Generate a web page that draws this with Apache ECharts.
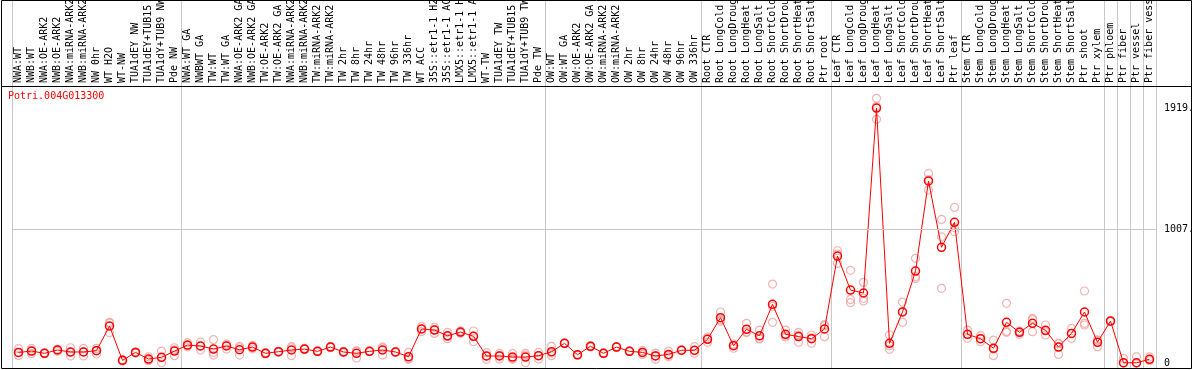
<!DOCTYPE html>
<html><head><meta charset="utf-8">
<script src="https://cdn.jsdelivr.net/npm/echarts@6/dist/echarts.min.js"></script>
<style>html,body{margin:0;padding:0;background:#fff}#c{width:1194px;height:370px}</style>
</head><body><div id="c"></div><script>
const geneTitle = 'Potri.004G013300';
const categories = [
 'NWA:WT','NWB:WT','NWA:OE-ARK2','NWB:OE-ARK2','NWA:miRNA-ARK2','NWB:miRNA-ARK2','NW 0hr','WT H2O','WT-NW','TUA1dEY NW','TUA1dEY+TUB15 NW','TUA1dY+TUB9 NW','Pde NW',
 'NWA:WT GA','NWBWT GA','TW:WT','TW:WT GA','NWA:OE-ARK2 GA','NWB:OE-ARK2 GA','TW:OE-ARK2','TW:OE-ARK2 GA','NWA:miRNA-ARK2 GA','NWB:miRNA-ARK2 GA','TW:miRNA-ARK2','TW:miRNA-ARK2 GA',
 'TW 2hr','TW 8hr','TW 24hr','TW 48hr','TW 96hr','TW 336hr','WT ACC','35S::etr1-1 H2O','35S::etr1-1 ACC','LMX5::etr1-1 H2O','LMX5::etr1-1 ACC','WT-TW','TUA1dEY TW','TUA1dEY+TUB15 TW','TUA1dY+TUB9 TW','Pde TW',
 'OW:WT','OW:WT GA','OW:OE-ARK2','OW:OE-ARK2 GA','OW:miRNA-ARK2','OW:miRNA-ARK2 GA','OW 2hr','OW 8hr','OW 24hr','OW 48hr','OW 96hr','OW 336hr',
 'Root CTR','Root LongCold','Root LongDrought','Root LongHeat','Root LongSalt','Root ShortCold','Root ShortDrought','Root ShortHeat','Root ShortSalt','Ptr root',
 'Leaf CTR','Leaf LongCold','Leaf LongDrought','Leaf LongHeat','Leaf LongSalt','Leaf ShortCold','Leaf ShortDrought','Leaf ShortHeat','Leaf ShortSalt','Ptr leaf',
 'Stem CTR','Stem LongCold','Stem LongDrought','Stem LongHeat','Stem LongSalt','Stem ShortCold','Stem ShortDrought','Stem ShortHeat','Stem ShortSalt','Ptr shoot','Ptr xylem',
 'Ptr phloem','Ptr fiber','Ptr vessel','Ptr fiber vessel'
];
const meanValues = [
 80,90,73,98,83,83,93,278,20,80,30,43,90,
 135,128,105,128,100,120,73,85,98,105,88,120,83,73,88,98,83,47,256,248,205,233,201,53,53,45,45,55,
 85,148,62,126,73,120,88,80,53,65,96,96,
 178,341,130,254,205,442,216,199,183,256,
 805,549,527,1919,148,384,692,1370,871,1059,
 216,183,111,306,231,299,246,120,223,384,156,
 316,2,2,28
];
const rep1 = [
 108,108,77,105,115,110,110,306,25,85,47,90,115,
 153,158,176,143,125,133,78,88,123,110,92,125,88,90,90,120,86,80,276,269,231,243,241,78,72,72,72,80,
 126,150,66,132,76,123,91,93,75,90,99,123,
 196,384,143,299,248,594,248,231,211,289,
 845,698,607,1992,211,459,788,1427,1081,1171,
 248,206,173,449,241,336,286,150,261,542,175,
 320,35,47,47
];
const rep2 = [
 80,90,73,100,80,85,95,300,20,80,25,40,100,
 130,128,79,135,115,120,73,85,115,105,88,120,83,90,88,113,83,30,256,252,200,230,202,53,57,35,60,55,
 75,148,62,126,73,120,88,82,56,58,96,93,
 183,324,135,232,186,426,203,210,190,281,
 820,479,487,1931,130,387,651,1381,950,1018,
 214,183,105,238,236,326,241,145,223,299,170,
 316,0,0,28
];
const rep3 = [
 55,70,70,88,53,53,68,228,15,75,17,2,55,
 122,98,60,105,60,107,68,82,55,100,84,115,78,38,86,60,80,30,236,223,183,225,160,28,30,28,2,30,
 55,145,58,120,70,117,85,65,28,47,93,73,
 156,315,111,231,181,306,196,156,148,198,
 750,454,467,1834,103,306,637,1302,562,988,
 186,160,55,231,216,236,211,65,186,286,123,
 312,0,0,17
];
const yTickValues = [0, 1007, 1919];
const yTickLabels = ['0', '1007.', '1919.'];
const groupBoundaries = [0, 13, 41, 53, 63, 73, 84, 85, 86, 87, 88];

const repData = [];
[rep1, rep2, rep3].forEach(r => r.forEach((v, i) => repData.push([i, v])));

const MONO = 'DejaVu Sans Mono';
const GRID_L = 12, GRID_R = 38;
const splitFn = (idx) => groupBoundaries.indexOf(idx) >= 0;

const chart = echarts.init(document.getElementById('c'), null, {renderer: 'canvas'});
chart.setOption({
  animation: false,
  backgroundColor: '#fff',
  title: {
    text: geneTitle, left: 8, top: 91, padding: 0,
    textStyle: {color: '#ff0000', fontSize: 10, fontFamily: MONO, fontWeight: 'normal'}
  },
  grid: [
    {left: GRID_L, right: GRID_R, top: 86, bottom: 1, outerBoundsMode: 'none', containLabel: false},
    {left: GRID_L, right: GRID_R, top: 0, height: 86, outerBoundsMode: 'none', containLabel: false}
  ],
  xAxis: [
    {
      gridIndex: 0, type: 'category', data: categories, position: 'top', boundaryGap: true,
      axisLine: {show: false}, axisTick: {show: false},
      axisLabel: {interval: 0, rotate: 90, margin: 3, fontFamily: MONO, fontSize: 10, color: '#000', hideOverlap: false},
      splitLine: {show: true, interval: splitFn, lineStyle: {color: '#c8c8c8', width: 1}}
    },
    {
      gridIndex: 1, type: 'category', data: categories, boundaryGap: true,
      axisLine: {show: false}, axisTick: {show: false}, axisLabel: {show: false},
      splitLine: {show: true, interval: splitFn, lineStyle: {color: '#c8c8c8', width: 1}}
    }
  ],
  yAxis: [
    {
      gridIndex: 0, type: 'value', position: 'right', min: -45, max: 2085,
      axisLine: {show: false}, axisTick: {show: false}, splitLine: {show: false},
      axisLabel: {
        customValues: yTickValues, margin: 8, fontFamily: MONO, fontSize: 10, color: '#000',
        formatter: (v) => { const k = yTickValues.indexOf(v); return k >= 0 ? yTickLabels[k] : ''; }
      }
    },
    {gridIndex: 1, type: 'value', show: false, min: 0, max: 1}
  ],
  series: [
    {
      type: 'scatter', xAxisIndex: 0, yAxisIndex: 0, data: repData, z: 2,
      symbol: 'circle', symbolSize: 8,
      itemStyle: {color: 'rgba(0,0,0,0)', borderColor: '#f0a0a0', borderWidth: 1.2},
      markLine: {
        silent: true, symbol: 'none', label: {show: false},
        lineStyle: {color: '#c8c8c8', type: 'solid', width: 1},
        data: [{yAxis: 1007}]
      }
    },
    {
      type: 'line', xAxisIndex: 0, yAxisIndex: 0, data: meanValues, z: 3,
      symbol: 'circle', symbolSize: 8, showAllSymbol: true,
      lineStyle: {color: '#ff0000', width: 1},
      itemStyle: {color: 'rgba(0,0,0,0)', borderColor: '#ff0000', borderWidth: 1.5}
    }
  ],
  graphic: [
    {type: 'rect', silent: true, z: 100, shape: {x: 1.5, y: 0.5, width: 1190, height: 368}, style: {fill: null, stroke: '#000', lineWidth: 1}},
    {type: 'line', silent: true, z: 100, shape: {x1: 1, y1: 86.5, x2: 1192, y2: 86.5}, style: {stroke: '#000', lineWidth: 1}}
  ]
});
</script></body></html>
